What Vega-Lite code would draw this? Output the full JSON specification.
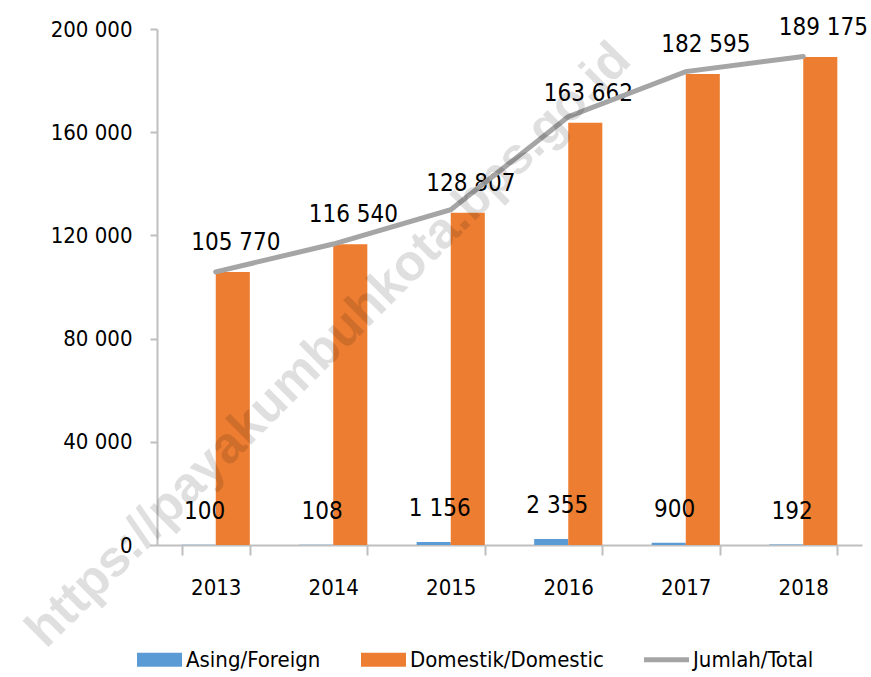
{
  "$schema": "https://vega.github.io/schema/vega-lite/v6.json",
  "width": 705,
  "height": 516,
  "autosize": {"type": "none"},
  "padding": {"left": 157, "top": 29, "right": 9, "bottom": 132},
  "background": "white",
  "config": {
    "locale": {"number": {"decimal": ".", "thousands": " ", "grouping": [3], "currency": ["", ""]}},
    "view": {"stroke": null},
    "font": "DejaVu Sans Condensed, Liberation Sans Narrow, sans-serif"
  },
  "datasets": {
    "bars": [
      {"year": "2013", "series": "Asing/Foreign", "value": 100},
      {"year": "2013", "series": "Domestik/Domestic", "value": 105770},
      {"year": "2014", "series": "Asing/Foreign", "value": 108},
      {"year": "2014", "series": "Domestik/Domestic", "value": 116540},
      {"year": "2015", "series": "Asing/Foreign", "value": 1156},
      {"year": "2015", "series": "Domestik/Domestic", "value": 128807},
      {"year": "2016", "series": "Asing/Foreign", "value": 2355},
      {"year": "2016", "series": "Domestik/Domestic", "value": 163662},
      {"year": "2017", "series": "Asing/Foreign", "value": 900},
      {"year": "2017", "series": "Domestik/Domestic", "value": 182595},
      {"year": "2018", "series": "Asing/Foreign", "value": 192},
      {"year": "2018", "series": "Domestik/Domestic", "value": 189175}
    ],
    "totals": [
      {"year": "2013", "total": 105870},
      {"year": "2014", "total": 116648},
      {"year": "2015", "total": 129963},
      {"year": "2016", "total": 166017},
      {"year": "2017", "total": 183495},
      {"year": "2018", "total": 189367}
    ],
    "wm": [{"t": "https://payakumbuhkota.bps.go.id"}]
  },
  "layer": [
    {
      "data": {"name": "bars"},
      "mark": {"type": "bar"},
      "encoding": {
        "x": {
          "field": "year", "type": "nominal",
          "scale": {"paddingInner": 0.42, "paddingOuter": 0.21},
          "axis": {
            "title": null, "labelAngle": 0, "tickBand": "extent", "tickSize": 10,
            "domainColor": "#BFBFBF", "tickColor": "#BFBFBF", "domainWidth": 2, "tickWidth": 2,
            "labelFontSize": 22, "labelColor": "#000", "labelPadding": 22
          }
        },
        "xOffset": {"field": "series", "type": "nominal", "scale": {"domain": ["Asing/Foreign", "Domestik/Domestic"], "paddingInner": 0, "paddingOuter": 0}},
        "y": {
          "field": "value", "type": "quantitative",
          "scale": {"domain": [0, 200000], "nice": false},
          "axis": {
            "title": null, "grid": false, "values": [0, 40000, 80000, 120000, 160000, 200000],
            "format": ",d", "labelFontSize": 22, "labelColor": "#000", "labelPadding": 18,
            "domainColor": "#BFBFBF", "tickColor": "#BFBFBF", "domainWidth": 2, "tickWidth": 2, "tickSize": 7
          }
        },
        "color": {
          "field": "series", "type": "nominal",
          "scale": {"domain": ["Asing/Foreign", "Domestik/Domestic", "Jumlah/Total"], "range": ["#5B9BD5", "#ED7D31", "#A5A5A5"]},
          "legend": {
            "orient": "none", "direction": "horizontal", "legendX": -20, "legendY": 608,
            "title": null, "labelFontSize": 22, "labelColor": "#000", "symbolSize": 2025,
            "columnPadding": 40, "labelOffset": 4, "labelLimit": 0,
            "encode": {
              "symbols": {
                "update": {
                  "shape": {"signal": "datum.value === 'Jumlah/Total' ? 'M-1,-0.11H1V0.11H-1Z' : 'M-1,-0.31H1V0.31H-1Z'"},
                  "fill": {"scale": "color", "field": "value"},
                  "fillOpacity": {"value": 1},
                  "strokeWidth": {"value": 0}
                }
              }
            }
          }
        }
      }
    },
    {
      "data": {"name": "bars"},
      "transform": [{"filter": "datum.series === 'Domestik/Domestic'"}],
      "mark": {"type": "text", "baseline": "bottom", "dy": -17, "dx": 3, "fontSize": 24, "color": "#000"},
      "encoding": {
        "x": {"field": "year", "type": "nominal"},
        "xOffset": {"field": "series", "type": "nominal"},
        "y": {"field": "value", "type": "quantitative"},
        "text": {"field": "value", "type": "quantitative", "format": ",d"}
      }
    },
    {
      "data": {"name": "bars"},
      "transform": [{"filter": "datum.series === 'Asing/Foreign'"}],
      "mark": {"type": "text", "baseline": "bottom", "dy": -21, "dx": 6, "fontSize": 24, "color": "#000"},
      "encoding": {
        "x": {"field": "year", "type": "nominal"},
        "xOffset": {"field": "series", "type": "nominal"},
        "y": {"field": "value", "type": "quantitative"},
        "text": {"field": "value", "type": "quantitative", "format": ",d"}
      }
    },
    {
      "data": {"name": "totals"},
      "mark": {"type": "line", "strokeWidth": 5, "strokeCap": "round"},
      "encoding": {
        "x": {"field": "year", "type": "nominal"},
        "y": {"field": "total", "type": "quantitative"},
        "color": {"datum": "Jumlah/Total", "type": "nominal"}
      }
    },
    {
      "data": {"name": "wm"},
      "mark": {"type": "text", "angle": 315, "fontSize": 51, "fontWeight": "bold", "font": "Liberation Sans", "color": "#000", "opacity": 0.12, "align": "center", "baseline": "middle", "dx": -6},
      "encoding": {
        "x": {"datum": "2014", "type": "nominal"},
        "y": {"datum": 79000, "type": "quantitative"},
        "text": {"field": "t", "type": "nominal"}
      }
    }
  ]
}
